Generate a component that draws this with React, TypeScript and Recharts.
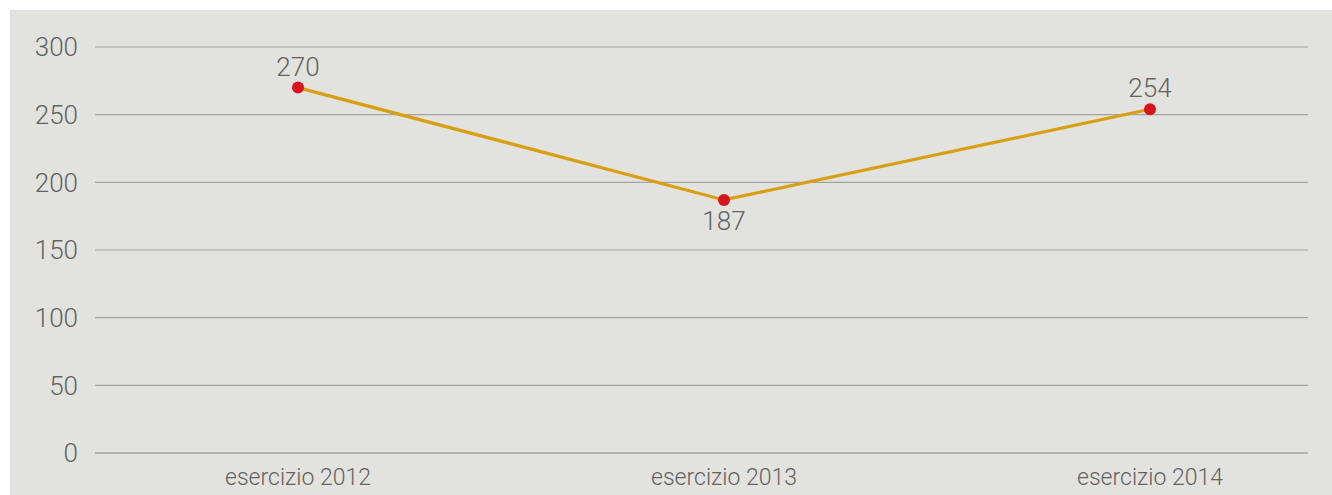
import React from 'react';
import { LineChart, Line, XAxis, YAxis, CartesianGrid, LabelList } from 'recharts';

const FONT = 'Roboto, "Liberation Sans", sans-serif';
const C = { BG: '#e2e2de', GRID: '#a3a39f', LINE: '#d99f12', DOT: '#d7151f', TEXT: '#636363' };

const categories = ['esercizio 2012', 'esercizio 2013', 'esercizio 2014'];
const values = [270, 187, 254];
const labelSide = ['top', 'bottom', 'top'];
const yTicks = [0, 50, 100, 150, 200, 250, 300];

const data = categories.map((name, i) => ({ name, value: values[i], side: labelSide[i] }));

const ValueLabel = (props: any) => {
  const { x, y, value, index } = props;
  const below = data[index]?.side === 'bottom';
  return (
    <text x={x} y={below ? y + 21 : y - 21} textAnchor="middle" dominantBaseline="central"
      fill={C.TEXT} fontSize={26} fontWeight={300} fontFamily={FONT}>
      {value}
    </text>
  );
};

const App: React.FC = () => (
  <div style={{ position: 'absolute', left: 0, top: 0, width: 1332, height: 495, background: '#fff' }}>
    <div style={{ position: 'absolute', left: 10, top: 10, width: 1322, height: 485, background: C.BG }}>
      <LineChart width={1322} height={485} data={data} margin={{ top: 37, right: 24, bottom: 0, left: 0 }}>
        <CartesianGrid vertical={false} stroke={C.GRID} strokeWidth={1.2} />
        <XAxis dataKey="name" axisLine={{ stroke: C.GRID, strokeWidth: 1.2 }} tickLine={false} height={42}
          padding={{ left: 203, right: 158 }} tickSize={0} tickMargin={16}
          tick={{ fill: C.TEXT, fontSize: 23, fontWeight: 300, fontFamily: FONT }} />
        <YAxis domain={[0, 300]} ticks={yTicks} axisLine={false} tickLine={false} width={85}
          tickSize={0} tickMargin={17} interval={0}
          tick={{ fill: C.TEXT, fontSize: 26, fontWeight: 300, fontFamily: FONT }} />
        <Line type="linear" dataKey="value" stroke={C.LINE} strokeWidth={3.2} isAnimationActive={false}
          dot={{ r: 6, fill: C.DOT, stroke: 'none' }} activeDot={false}>
          <LabelList dataKey="value" content={ValueLabel} />
        </Line>
      </LineChart>
    </div>
  </div>
);

export default App;
